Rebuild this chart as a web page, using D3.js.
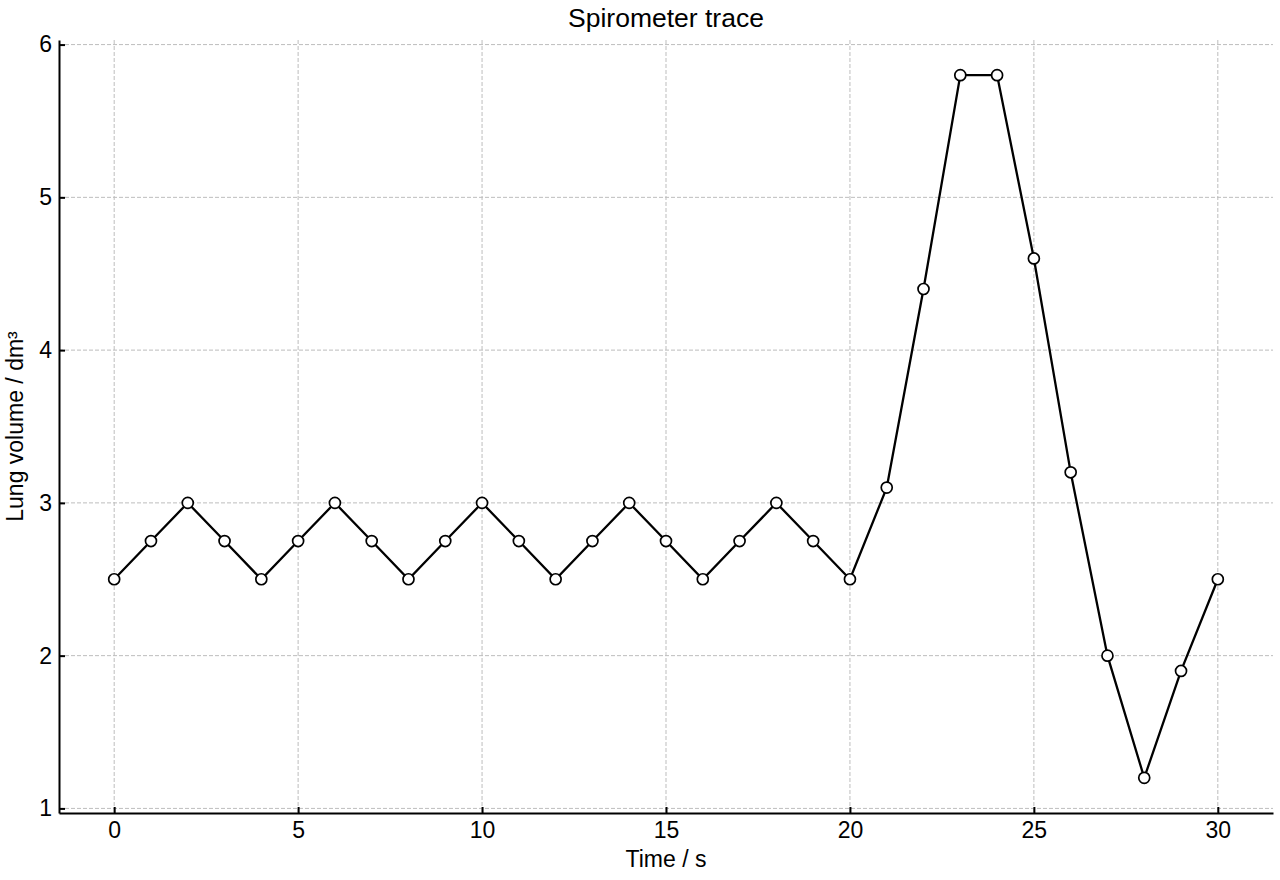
<!DOCTYPE html>
<html>
<head>
<meta charset="utf-8">
<script src="https://cdn.jsdelivr.net/npm/d3@7"></script>
<style>
  body { margin: 0; background: #fff; }
  svg { font-family: "Liberation Sans", Arial, sans-serif; }
</style>
</head>
<body>
<div id="chart"></div>
<script>
// time in seconds
const times = d3.range(0, 31);
// lung volume in dm3
const volumes = [2.5, 2.75, 3, 2.75, 2.5, 2.75, 3, 2.75, 2.5, 2.75, 3, 2.75, 2.5, 2.75, 3, 2.75,
                 2.5, 2.75, 3, 2.75, 2.5, 3.1, 4.4, 5.8, 5.8, 4.6, 3.2, 2.0, 1.2, 1.9, 2.5];
const xTicks = [0, 5, 10, 15, 20, 25, 30];
const yTicks = [1, 2, 3, 4, 5, 6];

const W = 1280, H = 880;
const margin = { left: 59, right: 7, top: 40, bottom: 67 };
const width = W - margin.left - margin.right;
const height = H - margin.top - margin.bottom;

const svg = d3.select("#chart").append("svg")
  .attr("width", W)
  .attr("height", H);

const g = svg.append("g")
  .attr("transform", "translate(" + margin.left + "," + margin.top + ")");

// matplotlib style 5% padding on the data range
const x = d3.scaleLinear().domain([-1.5, 31.5]).range([0, width]);
const y = d3.scaleLinear().domain([0.97, 6.03]).range([height, 0]);

// grid
g.append("g").selectAll("line")
  .data(xTicks).enter().append("line")
  .attr("x1", d => x(d)).attr("x2", d => x(d))
  .attr("y1", 0).attr("y2", height)
  .attr("stroke", "#bdbdbd").attr("stroke-width", 1)
  .attr("stroke-dasharray", "4,2");
g.append("g").selectAll("line")
  .data(yTicks).enter().append("line")
  .attr("x1", 0).attr("x2", width)
  .attr("y1", d => y(d)).attr("y2", d => y(d))
  .attr("stroke", "#bdbdbd").attr("stroke-width", 1)
  .attr("stroke-dasharray", "4,2");

// axes, ticks pointing inward
const xAxis = g.append("g")
  .attr("transform", "translate(0," + height + ")")
  .call(d3.axisBottom(x).tickValues(xTicks).tickFormat(d3.format("d"))
    .tickSize(-6).tickPadding(8).tickSizeOuter(0));
const yAxis = g.append("g")
  .call(d3.axisLeft(y).tickValues(yTicks).tickFormat(d3.format("d"))
    .tickSize(-6).tickPadding(7).tickSizeOuter(0));

[xAxis, yAxis].forEach(a => {
  a.attr("font-size", null).attr("font-family", null);
  a.select(".domain").attr("stroke", "#000").attr("stroke-width", 2);
  a.selectAll(".tick line").attr("stroke", "#000").attr("stroke-width", 2);
  a.selectAll(".tick text").attr("fill", "#000").style("font-size", "23px");
});
xAxis.selectAll(".tick text").attr("dy", "0.72em");

// line
const line = d3.line()
  .x((d, i) => x(times[i]))
  .y(d => y(d));

g.append("path")
  .datum(volumes)
  .attr("fill", "none")
  .attr("stroke", "#000")
  .attr("stroke-width", 2.3)
  .attr("d", line);

g.selectAll(".dot")
  .data(volumes)
  .enter().append("circle")
  .attr("class", "dot")
  .attr("cx", (d, i) => x(times[i]))
  .attr("cy", d => y(d))
  .attr("r", 5.5)
  .attr("fill", "#fff")
  .attr("stroke", "#000")
  .attr("stroke-width", 1.7);

// labels
svg.append("text")
  .attr("x", margin.left + width / 2)
  .attr("y", 27)
  .attr("text-anchor", "middle")
  .style("font-size", "26.5px")
  .text("Spirometer trace");

svg.append("text")
  .attr("x", margin.left + width / 2)
  .attr("y", 867)
  .attr("text-anchor", "middle")
  .style("font-size", "23px")
  .text("Time / s");

svg.append("text")
  .attr("transform", "translate(23," + (margin.top + height / 2) + ") rotate(-90)")
  .attr("text-anchor", "middle")
  .style("font-size", "23px")
  .text("Lung volume / dm³");
</script>
</body>
</html>
